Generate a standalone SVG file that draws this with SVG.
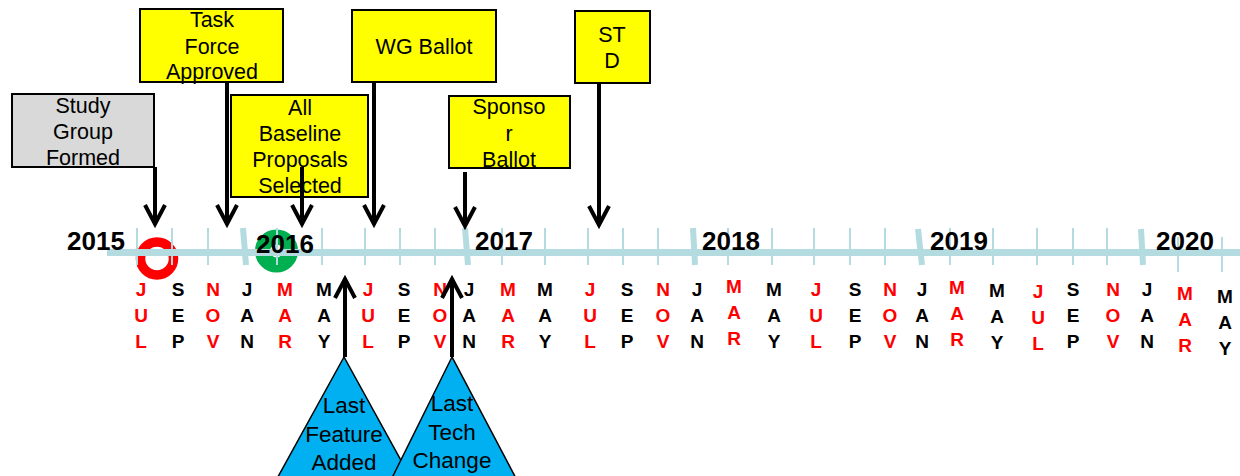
<svg xmlns="http://www.w3.org/2000/svg" width="1240" height="476" viewBox="0 0 1240 476">
<style>
.t{font-family:"Liberation Sans",Arial,sans-serif;font-size:21.5px;fill:#000;text-anchor:middle}
.tt{font-family:"Liberation Sans",Arial,sans-serif;font-size:22.5px;fill:#000;text-anchor:middle}
.yr{font-family:"Liberation Sans",Arial,sans-serif;font-size:26px;font-weight:bold;fill:#000}
.m{font-family:"Liberation Sans",Arial,sans-serif;font-size:19px;font-weight:bold;text-anchor:middle}
.r{fill:#FF0000}.k{fill:#000}
.box{fill:#FFFF00;stroke:#000;stroke-width:2}
.gray{fill:#D9D9D9;stroke:#000;stroke-width:2}
.tri{fill:#00B0F0;stroke:#000;stroke-width:1.5}
.arr{fill:none;stroke:#000;stroke-width:4}
.tick{stroke:#B4DCE0;stroke-width:2}
.brk{stroke:#B4DCE0;stroke-width:6}
</style>
<g id="timeline">
<circle cx="157" cy="258.5" r="16.5" fill="none" stroke="#FF0000" stroke-width="9.5"/>
<circle cx="276.5" cy="251" r="14" fill="none" stroke="#00B050" stroke-width="15"/>
<rect x="107" y="249" width="1133" height="7" fill="#B4DCE0"/>
<g class="tick">
<line x1="137" y1="228" x2="137" y2="265"/><line x1="172" y1="228" x2="172" y2="265"/><line x1="208" y1="228" x2="208" y2="265"/>
<line x1="277" y1="228" x2="277" y2="265"/><line x1="322" y1="228" x2="322" y2="265"/><line x1="365" y1="228" x2="365" y2="265"/>
<line x1="400" y1="228" x2="400" y2="265"/><line x1="435" y1="228" x2="435" y2="265"/><line x1="502" y1="228" x2="502" y2="265"/>
<line x1="545" y1="228" x2="545" y2="265"/><line x1="588" y1="228" x2="588" y2="265"/><line x1="623" y1="228" x2="623" y2="265"/>
<line x1="658" y1="228" x2="658" y2="265"/><line x1="728" y1="228" x2="728" y2="265"/><line x1="772" y1="228" x2="772" y2="265"/>
<line x1="814" y1="228" x2="814" y2="265"/><line x1="850" y1="228" x2="850" y2="265"/><line x1="885" y1="228" x2="885" y2="265"/>
<line x1="950" y1="228" x2="950" y2="265"/><line x1="993" y1="228" x2="993" y2="265"/><line x1="1037" y1="228" x2="1037" y2="265"/>
<line x1="1073" y1="228" x2="1073" y2="265"/><line x1="1107" y1="228" x2="1107" y2="265"/><line x1="1178" y1="237" x2="1178" y2="272"/>
<line x1="1222" y1="237" x2="1222" y2="272"/>
</g>
<g class="brk">
<line x1="243" y1="228" x2="246" y2="265"/><line x1="465" y1="228" x2="468" y2="265"/><line x1="693" y1="228" x2="695" y2="265"/>
<line x1="918" y1="229" x2="922" y2="265"/><line x1="1141" y1="229" x2="1143" y2="265"/>
</g>
<text class="yr" x="67" y="250">2015</text>
<text class="yr" x="256" y="253">2016</text>
<text class="yr" x="475" y="250">2017</text>
<text class="yr" x="702" y="250">2018</text>
<text class="yr" x="930" y="250">2019</text>
<text class="yr" x="1156" y="250">2020</text>
</g>
<g id="months">
<text class="m r" y="296"><tspan x="141">J</tspan><tspan x="141" dy="26">U</tspan><tspan x="141" dy="26">L</tspan></text>
<text class="m k" y="296"><tspan x="178">S</tspan><tspan x="178" dy="26">E</tspan><tspan x="178" dy="26">P</tspan></text>
<text class="m r" y="296"><tspan x="213">N</tspan><tspan x="213" dy="26">O</tspan><tspan x="213" dy="26">V</tspan></text>
<text class="m k" y="296"><tspan x="247">J</tspan><tspan x="247" dy="26">A</tspan><tspan x="247" dy="26">N</tspan></text>
<text class="m r" y="296"><tspan x="285">M</tspan><tspan x="285" dy="26">A</tspan><tspan x="285" dy="26">R</tspan></text>
<text class="m k" y="296"><tspan x="324">M</tspan><tspan x="324" dy="26">A</tspan><tspan x="324" dy="26">Y</tspan></text>
<text class="m r" y="296"><tspan x="368">J</tspan><tspan x="368" dy="26">U</tspan><tspan x="368" dy="26">L</tspan></text>
<text class="m k" y="296"><tspan x="404">S</tspan><tspan x="404" dy="26">E</tspan><tspan x="404" dy="26">P</tspan></text>
<text class="m r" y="296"><tspan x="440">N</tspan><tspan x="440" dy="26">O</tspan><tspan x="440" dy="26">V</tspan></text>
<text class="m k" y="296"><tspan x="469">J</tspan><tspan x="469" dy="26">A</tspan><tspan x="469" dy="26">N</tspan></text>
<text class="m r" y="296"><tspan x="508">M</tspan><tspan x="508" dy="26">A</tspan><tspan x="508" dy="26">R</tspan></text>
<text class="m k" y="296"><tspan x="545">M</tspan><tspan x="545" dy="26">A</tspan><tspan x="545" dy="26">Y</tspan></text>
<text class="m r" y="296"><tspan x="590">J</tspan><tspan x="590" dy="26">U</tspan><tspan x="590" dy="26">L</tspan></text>
<text class="m k" y="296"><tspan x="627">S</tspan><tspan x="627" dy="26">E</tspan><tspan x="627" dy="26">P</tspan></text>
<text class="m r" y="296"><tspan x="663">N</tspan><tspan x="663" dy="26">O</tspan><tspan x="663" dy="26">V</tspan></text>
<text class="m k" y="296"><tspan x="697">J</tspan><tspan x="697" dy="26">A</tspan><tspan x="697" dy="26">N</tspan></text>
<text class="m r" y="293"><tspan x="734">M</tspan><tspan x="734" dy="26">A</tspan><tspan x="734" dy="26">R</tspan></text>
<text class="m k" y="296"><tspan x="774">M</tspan><tspan x="774" dy="26">A</tspan><tspan x="774" dy="26">Y</tspan></text>
<text class="m r" y="296"><tspan x="816">J</tspan><tspan x="816" dy="26">U</tspan><tspan x="816" dy="26">L</tspan></text>
<text class="m k" y="296"><tspan x="855">S</tspan><tspan x="855" dy="26">E</tspan><tspan x="855" dy="26">P</tspan></text>
<text class="m r" y="296"><tspan x="890">N</tspan><tspan x="890" dy="26">O</tspan><tspan x="890" dy="26">V</tspan></text>
<text class="m k" y="296"><tspan x="922">J</tspan><tspan x="922" dy="26">A</tspan><tspan x="922" dy="26">N</tspan></text>
<text class="m r" y="294"><tspan x="957">M</tspan><tspan x="957" dy="26">A</tspan><tspan x="957" dy="26">R</tspan></text>
<text class="m k" y="297"><tspan x="997">M</tspan><tspan x="997" dy="26">A</tspan><tspan x="997" dy="26">Y</tspan></text>
<text class="m r" y="298"><tspan x="1038">J</tspan><tspan x="1038" dy="26">U</tspan><tspan x="1038" dy="26">L</tspan></text>
<text class="m k" y="296"><tspan x="1073">S</tspan><tspan x="1073" dy="26">E</tspan><tspan x="1073" dy="26">P</tspan></text>
<text class="m r" y="296"><tspan x="1113">N</tspan><tspan x="1113" dy="26">O</tspan><tspan x="1113" dy="26">V</tspan></text>
<text class="m k" y="296"><tspan x="1147">J</tspan><tspan x="1147" dy="26">A</tspan><tspan x="1147" dy="26">N</tspan></text>
<text class="m r" y="300"><tspan x="1185">M</tspan><tspan x="1185" dy="26">A</tspan><tspan x="1185" dy="26">R</tspan></text>
<text class="m k" y="303"><tspan x="1225">M</tspan><tspan x="1225" dy="26">A</tspan><tspan x="1225" dy="26">Y</tspan></text>
</g>
<g id="study-group">
<rect class="gray" x="12" y="94" width="142" height="73"/>
<text class="t"><tspan x="83" y="113">Study</tspan><tspan x="83" y="139">Group</tspan><tspan x="83" y="165">Formed</tspan></text>
</g>
<g id="task-force">
<rect class="box" x="140" y="9" width="143" height="73"/>
<text class="t"><tspan x="212" y="27">Task</tspan><tspan x="212" y="54">Force</tspan><tspan x="212" y="79">Approved</tspan></text>
</g>
<g id="baseline">
<rect class="box" x="231" y="95" width="137" height="102"/>
<text class="t"><tspan x="300" y="115">All</tspan><tspan x="300" y="141">Baseline</tspan><tspan x="300" y="167">Proposals</tspan><tspan x="300" y="193">Selected</tspan></text>
</g>
<g id="wg-ballot">
<rect class="box" x="352" y="10" width="144" height="72"/>
<text class="t" x="424" y="54">WG Ballot</text>
</g>
<g id="sponsor-ballot">
<rect class="box" x="449" y="96" width="121" height="72"/>
<text class="t"><tspan x="509" y="114">Sponso</tspan><tspan x="509" y="141">r</tspan><tspan x="509" y="167">Ballot</tspan></text>
</g>
<g id="std">
<rect class="box" x="575" y="11" width="75" height="72"/>
<text class="t"><tspan x="612" y="42">ST</tspan><tspan x="612" y="68">D</tspan></text>
</g>
<g id="last-feature">
<polygon class="tri" points="344,357 274,484 414,484"/>
<text class="tt"><tspan x="344" y="413">Last</tspan><tspan x="344" y="442">Feature</tspan><tspan x="344" y="470">Added</tspan></text>
</g>
<g id="last-tech">
<polygon class="tri" points="452,357 389,484 519,484"/>
<text class="tt"><tspan x="452" y="411">Last</tspan><tspan x="452" y="440">Tech</tspan><tspan x="452" y="468">Change</tspan></text>
</g>
<g id="connectors" class="arr">
<path d="M155,167 V224 M145,205 L155,224 L165,205"/>
<path d="M227,82 V224 M217,205 L227,224 L237,205"/>
<path d="M302,167 V224 M292,205 L302,224 L312,205"/>
<path d="M374,82 V224 M364,205 L374,224 L384,205"/>
<path d="M465,172 V226 M455,207 L465,226 L475,207"/>
<path d="M599,83 V225 M589,206 L599,225 L609,206"/>
<path d="M345,357 V279 M335,298 L345,279 L355,298"/>
<path d="M452,357 V279 M442,298 L452,279 L462,298"/>
</g>
</svg>
